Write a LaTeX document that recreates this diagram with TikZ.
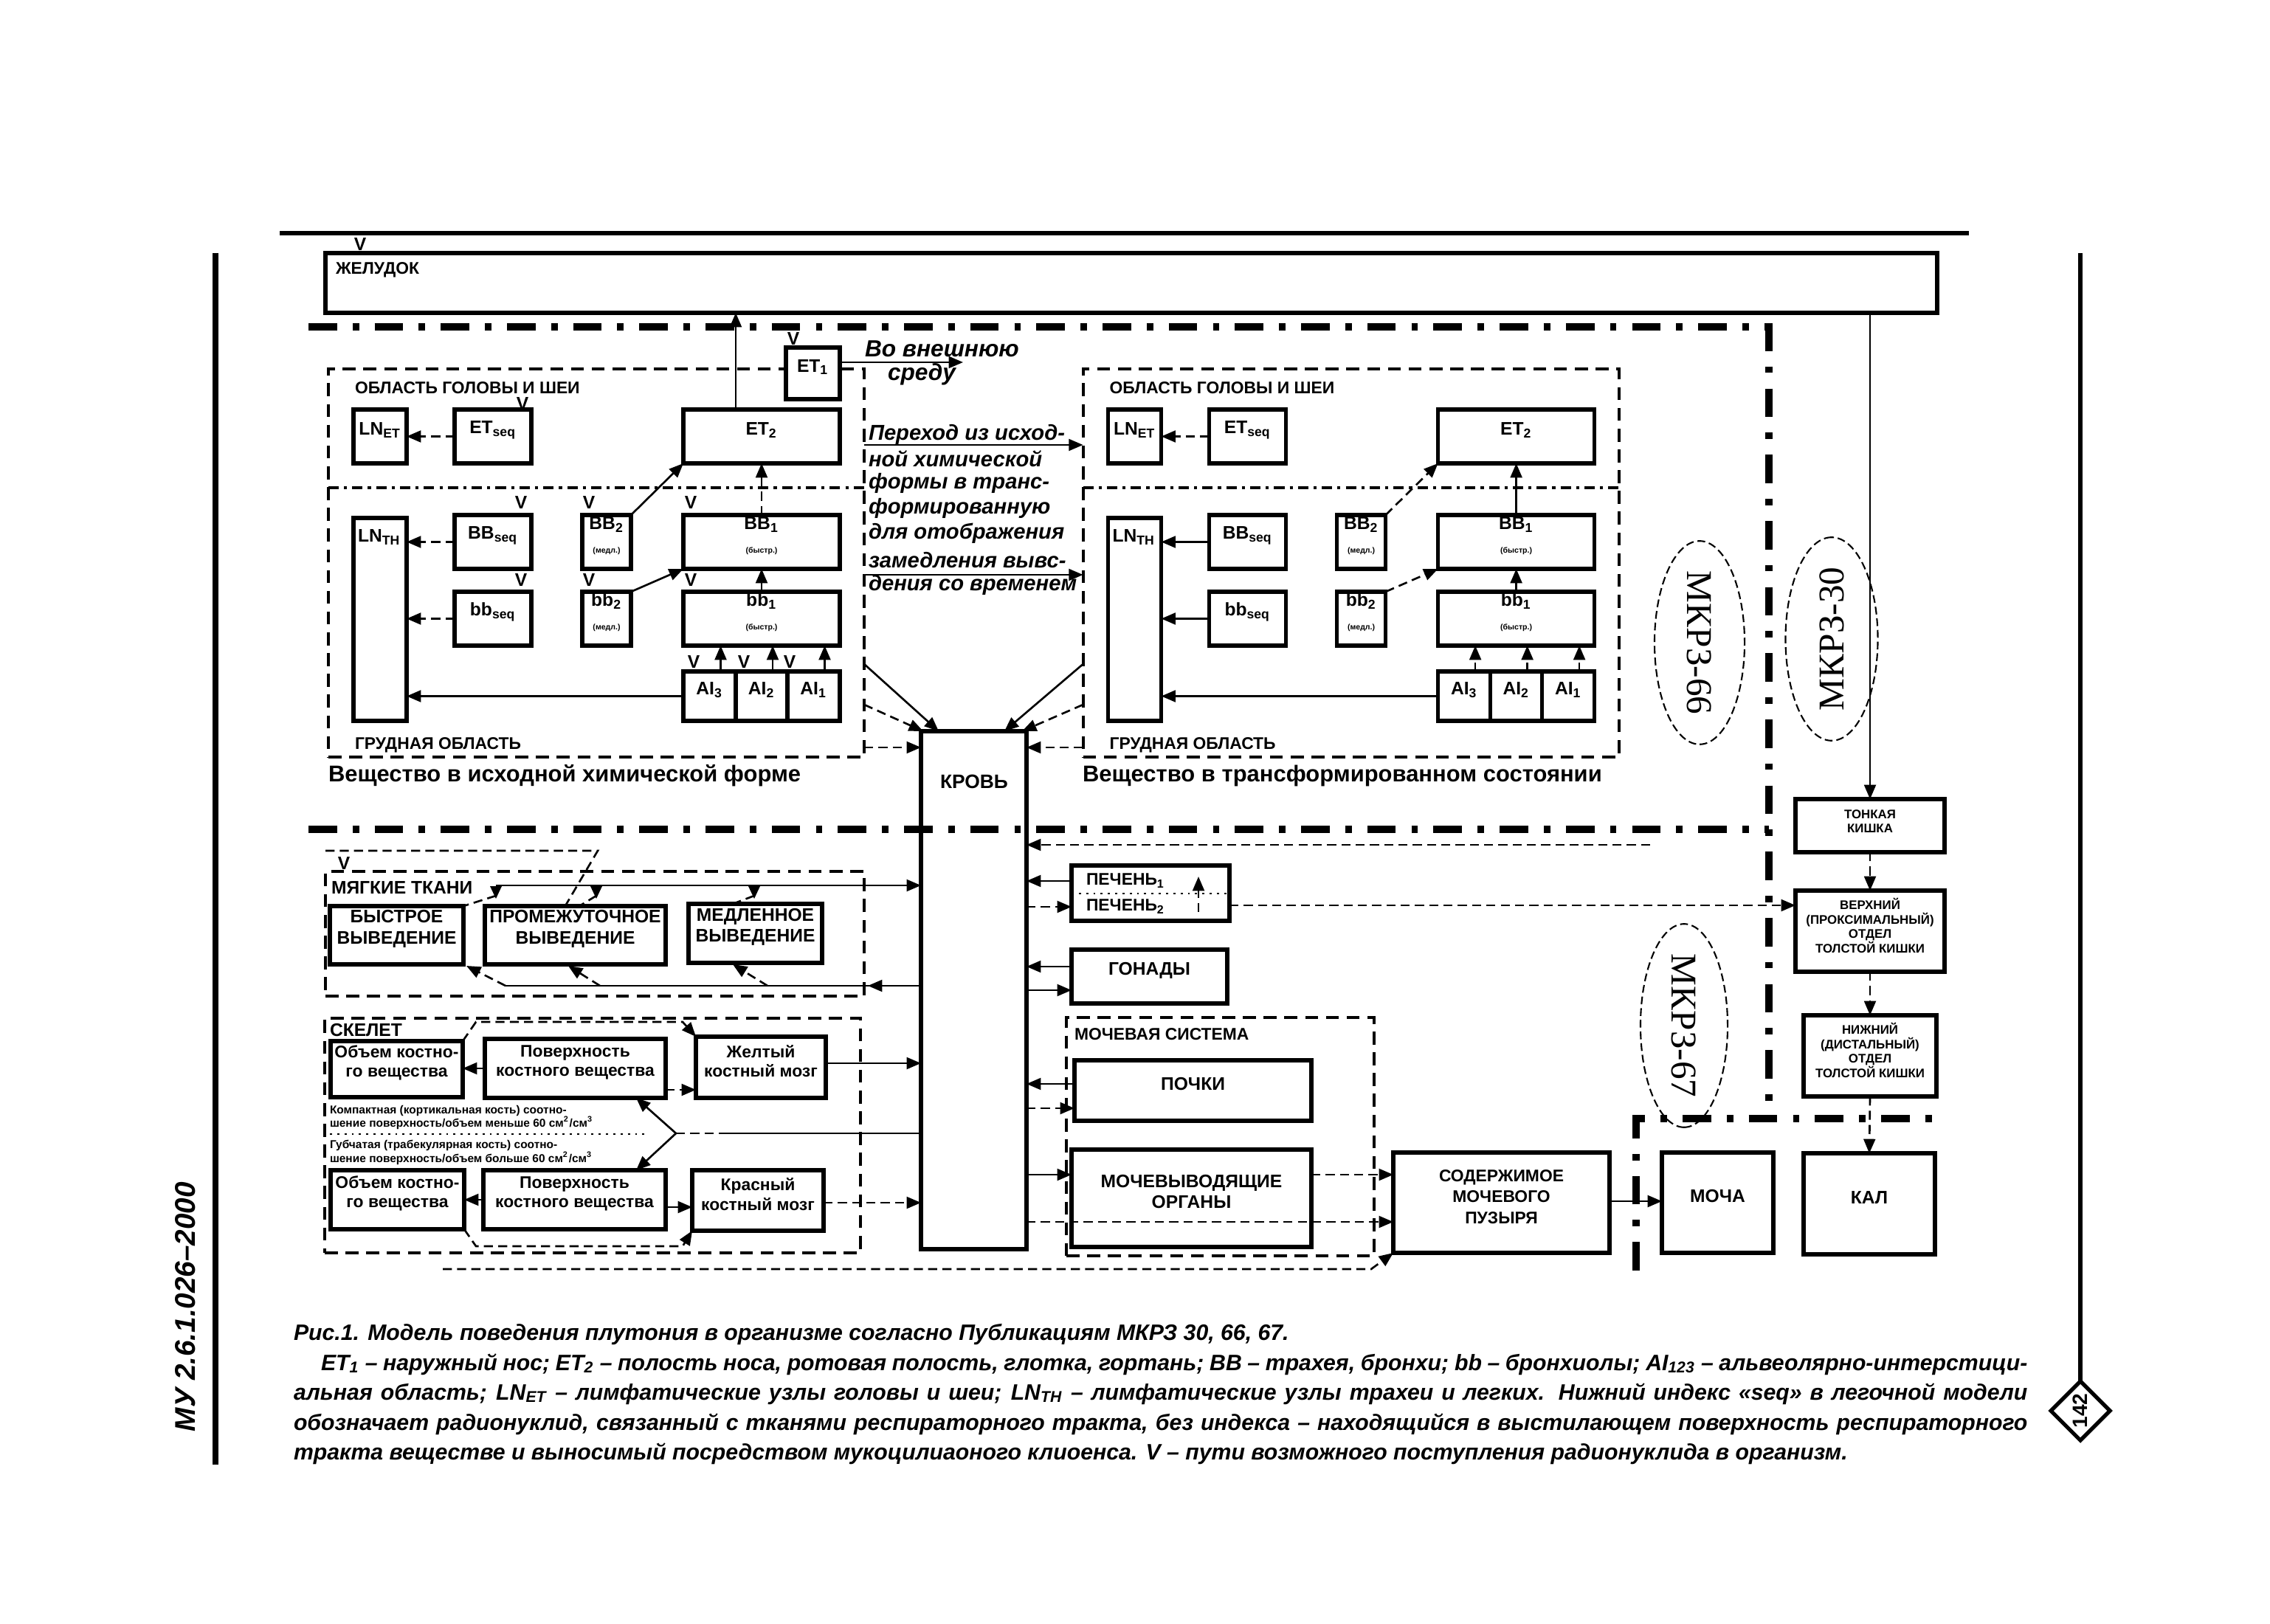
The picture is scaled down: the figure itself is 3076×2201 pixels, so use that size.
\documentclass[tikz,border=0pt]{standalone}
\usepackage{fontspec}
\setmainfont{Liberation Sans}
\newfontfamily\mkrzfont{Liberation Serif}
\usetikzlibrary{arrows.meta,fit,shapes.geometric}
\newcommand\fsz[2]{\fontsize{#1}{#2}\selectfont}
\tikzset{
  every node/.style={inner sep=0pt, outer sep=0pt},
  bx/.style={draw, line width=1.6pt, fill=white, align=center, font=\bfseries\fsz{7}{8}},
  ar/.style={line width=0.75pt, -{Triangle[length=5.5pt,width=4.5pt]}},
  dar/.style={ar, dash pattern=on 3.5pt off 2pt},
  ln/.style={line width=0.75pt},
  dln/.style={ln, dash pattern=on 3.5pt off 2pt},
  region/.style={draw, line width=1.1pt, dash pattern=on 5pt off 3pt},
  sepl/.style={line width=0.9pt, dash pattern=on 4pt off 2pt on 1.2pt off 2pt},
  border/.style={line width=2.8pt, dash pattern=on 11pt off 6pt on 2.5pt off 6pt},
  lbl/.style={anchor=west, font=\bfseries\fsz{6.5}{7.5}},
  vm/.style={font=\bfseries\fsz{7}{7}},
  ell/.style={draw, ellipse, line width=0.6pt, dash pattern=on 3pt off 1.5pt, font=\mkrzfont\fsz{14}{14}},
  itx/.style={anchor=west, font=\bfseries\itshape\fsz{8.3}{9}},
  captxt/.style={anchor=base west, font=\bfseries\itshape\fsz{8.6}{10}},
  sk/.style={anchor=west, font=\bfseries\fsz{4.4}{5}},
  skb/.style={bx, font=\bfseries\fsz{6.5}{7.5}},
  gi/.style={bx, font=\bfseries\fsz{4.8}{5.6}},
}
\newcommand\lungblock[3]{%
  \node[region, fit={(445,500)(1171,1026)}] (reg#1) {};
  \draw[sepl] (445,661) -- (1171,661);
  \node[lbl] at (481,526) {ОБЛАСТЬ ГОЛОВЫ И ШЕИ};
  \node[lbl] at (481,1010) {ГРУДНАЯ ОБЛАСТЬ};
  \node[bx, fit={(479,555)(551,628)}] (LNET#1) {LN\textsubscript{ET}};
  \node[bx, fit={(616,555)(720,628)}] (ETs#1) {ET\textsubscript{seq}};
  \node[bx, fit={(926,555)(1138,628)}] (ETb#1) {ET\textsubscript{2}};
  \node[bx, fit={(479,702)(551,977)}] (LNTH#1) {};
  \node[font=\bfseries\fsz{7}{8}] at (514,728) {LN\textsubscript{TH}};
  \node[bx, fit={(616,698)(720,771)}] (BBs#1) {BB\textsubscript{seq}};
  \node[bx, fit={(616,802)(720,875)}] (bbs#1) {bb\textsubscript{seq}};
  \node[bx, fit={(789,698)(855,771)}] (BBm#1) {BB\textsubscript{2}\\[1pt]{\fsz{3}{3}(медл.)}};
  \node[bx, fit={(789,802)(855,875)}] (bbm#1) {bb\textsubscript{2}\\[1pt]{\fsz{3}{3}(медл.)}};
  \node[bx, fit={(926,698)(1138,771)}] (BBb#1) {BB\textsubscript{1}\\[1pt]{\fsz{3}{3}(быстр.)}};
  \node[bx, fit={(926,802)(1138,875)}] (bbb#1) {bb\textsubscript{1}\\[1pt]{\fsz{3}{3}(быстр.)}};
  \node[bx, fit={(926,910)(997,977)}] (AIc#1) {AI\textsubscript{3}};
  \node[bx, fit={(997,910)(1067,977)}] (AIb#1) {AI\textsubscript{2}};
  \node[bx, fit={(1067,910)(1138,977)}] (AIa#1) {AI\textsubscript{1}};
  \draw[dar] (ETs#1.west) -- (LNET#1.east);
  \draw[ar] (AIc#1.west) -- (LNTH#1.east |- AIc#1.west);
  \draw[#2] (BBs#1.west) -- (LNTH#1.east |- BBs#1.west);
  \draw[#2] (bbs#1.west) -- (LNTH#1.east |- bbs#1.west);
  \draw[#2] (BBb#1.north) -- (ETb#1.south);
  \draw[ar] (bbb#1.north) -- (BBb#1.south);
  \draw[#3] (BBm#1.north east) -- (ETb#1.south west);
  \draw[#3] (bbm#1.north east) -- (BBb#1.south west);
  \foreach \nm in {AIa,AIb,AIc} {
    \draw[#3] ([xshift=0.15cm]\nm#1.north) -- ([xshift=0.15cm]\nm#1.north |- bbb#1.south);
  }
}
\begin{document}
\begin{tikzpicture}[x=0.01cm, y=-0.01cm]
\useasboundingbox (0,0) rectangle (3076,2201);
\fill[white] (0,0) rectangle (3076,2201);

% page frame
\draw[line width=1.5pt] (379,316) -- (2668,316);
\draw[line width=2.5pt] (292,343) -- (292,1985);
\node[rotate=90, font=\bfseries\itshape\fsz{11}{11}] (doc) at (251,1771) {МУ 2.6.1.026–2000};
\node[diamond, draw, line width=1.5pt, minimum width=0.8cm, minimum height=0.8cm, font=\bfseries\fsz{8}{8}] (pg) at (2819,1912) {\rotatebox{90}{142}};
\coordinate (pgtop) at (2819,343);
\draw[line width=1.5pt] (pgtop) -- (pg.north);

% thick dash-dot borders
\draw[border] (418,443) -- (2397,443) -- (2397,1510);
\draw[border] (418,1124) -- (2397,1124);
\draw[border] (2217,1722) -- (2217,1516) -- (2619,1516);

% stomach
\node[bx, fit={(441,343)(2625,424)}] (zhel) {};
\node[lbl] at (455,366) {ЖЕЛУДОК};
\node[vm] at (488,331) {V};

% lung blocks
\lungblock{L}{dar}{ar}
\begin{scope}[xshift=10.22cm]
\lungblock{R}{ar}{dar}
\end{scope}
\node[anchor=west, font=\bfseries\fsz{8.8}{9}] at (445,1051) {Вещество в исходной химической форме};
\node[anchor=west, font=\bfseries\fsz{8.8}{9}] at (1467,1051) {Вещество в трансформированном состоянии};

% ET1 and outside
\node[bx, fit={(1065,471)(1138,541)}] (ET1) {ET\textsubscript{1}};
\coordinate (ext) at (1305,491);
\draw[ar] (ET1.east |- ext) -- (ext);
\node[anchor=west, font=\bfseries\itshape\fsz{9}{9}] at (1172,473) {Во внешнюю};
\node[anchor=west, font=\bfseries\itshape\fsz{9}{9}] at (1203,507) {среду};
\draw[ar] ([xshift=-0.35cm]ETbL.north) -- ([xshift=-0.35cm]ETbL.north |- zhel.south);

% V marks (left block)
\foreach \p in {(1075,459),(708,547),(706,681),(706,786),(798,681),(798,786),(936,681),(936,786),(940,897),(1008,897),(1070,897)}
  \node[vm] at \p {V};

% transition text
\node[itx] at (1177,589) {Переход из исход-};
\node[itx] at (1177,622) {ной химической};
\node[itx] at (1177,655) {формы в транс-};
\node[itx] at (1177,689) {формированную};
\node[itx] at (1177,723) {для отображения};
\node[itx] at (1177,759) {замедления вывс-};
\node[itx] at (1177,793) {дения со временем};
\draw[ar] (regL.east |- 0,603) -- (regR.west |- 0,603);
\draw[ar] (regL.east |- 0,779) -- (regR.west |- 0,779);

% blood
\node[bx, fill=none, fit={(1248,991)(1391,1693)}] (krov) {};
\node[font=\bfseries\fsz{7.5}{8}] at (1320,1059) {КРОВЬ};
\draw[ar] (regL.east |- 0,900) -- ([xshift=0.24cm]krov.north west);
\draw[dar] (regL.east |- 0,955) -- ([xshift=0.03cm]krov.north west);
\draw[ar] (regR.west |- 0,900) -- ([xshift=-0.3cm]krov.north east);
\draw[dar] (regR.west |- 0,955) -- ([xshift=-0.06cm]krov.north east);
\draw[dar] (regL.east |- 0,1013) -- (krov.west |- 0,1013);
\draw[dar] (regR.west |- 0,1013) -- (krov.east |- 0,1013);

% soft tissue
\node[vm] at (466,1170) {V};
\draw[dln] (441,1153) -- (810,1153) -- (767,1226);
\node[region, fit={(441,1181)(1171,1350)}] (regST) {};
\node[anchor=west, font=\bfseries\fsz{7}{8}] at (449,1203) {МЯГКИЕ ТКАНИ};
\node[bx, fit={(447,1228)(628,1307)}] (fast) {БЫСТРОЕ\\ВЫВЕДЕНИЕ};
\node[bx, align=left, fit={(657,1228)(902,1307)}] (prom) {ПРОМЕЖУТОЧНОЕ\\ВЫВЕДЕНИЕ};
\node[bx, align=left, fit={(933,1225)(1114,1305)}] (slow) {МЕДЛЕННОЕ\\ВЫВЕДЕНИЕ};
\coordinate (stt) at (672,1200);
\draw[ar] (stt) -- (krov.west |- stt);
\foreach \xx in {672,808,1022} \fill (\xx-8,1201) -- (\xx+8,1201) -- (\xx,1218) -- cycle;
\draw[dln] (672,1214) -- (fast.north east);
\draw[dln] (808,1214) -- (785,1228);
\draw[dln] (1022,1214) -- (993,1225);
\coordinate (stb) at (685,1336);
\draw[ln] (krov.west |- stb) -- (stb);
\draw[ar] (1235,1336) -- (1176,1336);
\draw[dar] (stb) -- (632,1309);
\draw[dar] (813,1336) -- (770,1309);
\draw[dar] (1040,1336) -- (993,1307);

% skeleton
\node[region, fit={(440,1380)(1166,1698)}] (regSK) {};
\node[anchor=west, font=\bfseries\fsz{7}{8}] at (447,1396) {СКЕЛЕТ};
\node[skb, align=left, fit={(448,1411)(627,1487)}] (obT) {Объем костно-\\го вещества};
\node[skb, fit={(657,1408)(902,1488)}] (poT) {Поверхность\\костного вещества};
\node[skb, align=left, fit={(943,1405)(1119,1488)}] (yel) {Желтый\\костный мозг};
\node[skb, align=left, fit={(448,1586)(629,1666)}] (obB) {Объем костно-\\го вещества};
\node[skb, align=left, fit={(655,1586)(902,1666)}] (poB) {Поверхность\\костного вещества};
\node[skb, align=left, fit={(938,1586)(1116,1668)}] (red) {Красный\\костный мозг};
\node[sk] at (447,1505) {Компактная (кортикальная кость) соотно-};
\node[sk] at (447,1522) {шение поверхность/объем меньше 60 см\textsuperscript{2}/см\textsuperscript{3}};
\draw[line width=0.8pt, dotted] (447,1537) -- (880,1537);
\node[sk] at (447,1552) {Губчатая (трабекулярная кость) соотно-};
\node[sk] at (447,1570) {шение поверхность/объем больше 60 см\textsuperscript{2}/см\textsuperscript{3}};
\draw[ar] (poT.west) -- (obT.east |- poT.west);
\draw[dar] (poT.east |- 0,1477) -- (yel.west |- 0,1477);
\draw[ar] (poB.west) -- (obB.east |- poB.west);
\draw[ar] (poB.east |- 0,1636) -- (red.west |- 0,1636);
\draw[dar] (obT.north east) -- (645,1385) -- (925,1385) -- (yel.north west);
\draw[dar] (obB.south east) -- (645,1689) -- (925,1689) -- (red.south west);
\coordinate (apx) at (916,1536);
\draw[ar] (apx) -- ([xshift=-0.4cm]poT.south east);
\draw[ar] (apx) -- ([xshift=-0.4cm]poB.north east);
\draw[dln] (apx) -- (975,1536);
\draw[ln] (975,1536) -- (krov.west |- apx);
\draw[ar] (yel.east |- 0,1441) -- (krov.west |- 0,1441);
\draw[dar] (red.east |- 0,1630) -- (krov.west |- 0,1630);

% organs right of blood
\coordinate (fr) at (2236,1145);
\draw[dar] (fr) -- (krov.east |- fr);
\node[bx, fit={(1452,1173)(1666,1248)}] (liv) {};
\node[lbl] at (1472,1194) {ПЕЧЕНЬ\textsubscript{1}};
\node[lbl] at (1472,1229) {ПЕЧЕНЬ\textsubscript{2}};
\draw[line width=0.8pt, dotted] (1452,1211) -- (1666,1211);
\draw[dar] (1624,1236) -- (1624,1188);
\draw[ar] (liv.west |- 0,1194) -- (krov.east |- 0,1194);
\draw[dar] (krov.east |- 0,1229) -- (liv.west |- 0,1229);
\node[bx, fit={(1452,1287)(1663,1360)}] (gon) {ГОНАДЫ};
\draw[ar] (gon.west |- 0,1310) -- (krov.east |- 0,1310);
\draw[ar] (krov.east |- 0,1342) -- (gon.west |- 0,1342);
\node[region, fit={(1445,1379)(1862,1702)}] (regU) {};
\node[lbl] at (1456,1402) {МОЧЕВАЯ СИСТЕМА};
\node[bx, fit={(1456,1437)(1777,1519)}] (kid) {ПОЧКИ};
\draw[ar] (kid.west |- 0,1469) -- (krov.east |- 0,1469);
\draw[dar] (krov.east |- 0,1502) -- (kid.west |- 0,1502);
\node[bx, fit={(1452,1558)(1777,1690)}] (uro) {МОЧЕВЫВОДЯЩИЕ\\ОРГАНЫ};
\node[bx, font=\bfseries\fsz{6.5}{8}, fit={(1888,1562)(2181,1698)}] (blad) {СОДЕРЖИМОЕ\\МОЧЕВОГО\\ПУЗЫРЯ};
\draw[ar] (krov.east |- 0,1592) -- (uro.west |- 0,1592);
\draw[dar] (uro.east |- 0,1592) -- (blad.west |- 0,1592);
\draw[dar] (krov.east |- 0,1656) -- (blad.west |- 0,1656);
\draw[dar] (600,1720) -- (1858,1720) -- (blad.south west);
\node[bx, fit={(2252,1562)(2403,1698)}] (moch) {МОЧА};
\node[bx, fit={(2444,1563)(2622,1700)}] (kal) {КАЛ};
\draw[ar] (blad.east |- 0,1628) -- (moch.west |- 0,1628);

% GI tract
\node[gi, fit={(2433,1083)(2635,1155)}] (ton) {ТОНКАЯ\\КИШКА};
\node[gi, fit={(2433,1207)(2635,1317)}] (verh) {ВЕРХНИЙ\\(ПРОКСИМАЛЬНЫЙ)\\ОТДЕЛ\\ТОЛСТОЙ КИШКИ};
\node[gi, fit={(2444,1376)(2624,1486)}] (nizh) {НИЖНИЙ\\(ДИСТАЛЬНЫЙ)\\ОТДЕЛ\\ТОЛСТОЙ КИШКИ};
\draw[ar] (zhel.south -| ton.north) -- (ton.north);
\draw[dar] (ton.south) -- (verh.north);
\draw[dar] (verh.south) -- (nizh.north);
\draw[dar] (nizh.south) -- (kal.north);
\draw[dar] (liv.east |- 0,1227) -- (verh.west |- 0,1227);

% ICRP ellipses
\node[ell, rotate=-90, minimum width=2.39cm, minimum height=1.22cm] (m66) at (2303,871) {МКРЗ-66};
\node[ell, rotate=90, minimum width=2.5cm, minimum height=1.25cm] (m30) at (2482,866) {МКРЗ-30};
\node[ell, rotate=-90, minimum width=2.36cm, minimum height=1.18cm] (m67) at (2282,1390) {МКРЗ-67};

% caption
\node[captxt] at (398,1816) {Рис.1. Модель поведения плутония в организме согласно Публикациям МКРЗ 30, 66, 67.};
\node[captxt] at (435,1857) {\makebox[23.11cm][s]{ET\textsubscript{1} – наружный нос; ET\textsubscript{2} – полость носа, ротовая полость, глотка, гортань; BB – трахея, бронхи; bb – бронхиолы; AI\textsubscript{123} – альвеолярно-интерстици-}};
\node[captxt] at (398,1897) {\makebox[23.48cm][s]{альная область; LN\textsubscript{ET} – лимфатические узлы головы и шеи; LN\textsubscript{TH} – лимфатические узлы трахеи и легких. Нижний индекс «seq» в легочной модели}};
\node[captxt] at (398,1938) {\makebox[23.48cm][s]{обозначает радионуклид, связанный с тканями респираторного тракта, без индекса – находящийся в выстилающем поверхность респираторного}};
\node[captxt] at (398,1978) {тракта веществе и выносимый посредством мукоцилиаоного клиоенса. V – пути возможного поступления радионуклида в организм.};
\end{tikzpicture}
\end{document}
